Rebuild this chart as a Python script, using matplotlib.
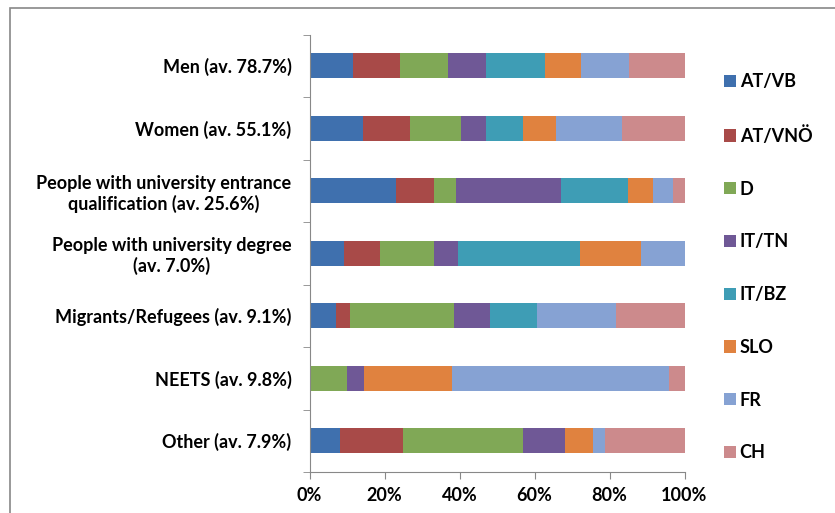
import numpy as np
import matplotlib.pyplot as plt
from matplotlib.patches import Rectangle

categories = ["Men (av. 78.7%)", "Women (av. 55.1%)",
              "People with university entrance\nqualification (av. 25.6%)",
              "People with university degree\n(av. 7.0%)",
              "Migrants/Refugees (av. 9.1%)", "NEETS (av. 9.8%)", "Other (av. 7.9%)"]
regions = ["AT/VB", "AT/VNÖ", "D", "IT/TN", "IT/BZ", "SLO", "FR", "CH"]

# share (%) of each region within a group
at_vb  = [11.6, 14.2, 23.1, 9.3, 7.1, 0.0, 8.2]
at_vno = [12.6, 12.7, 10.2, 9.6, 3.8, 0.0, 16.8]
d      = [12.8, 13.6, 5.8, 14.2, 27.5, 10.1, 31.9]
it_tn  = [10.1, 6.5, 27.9, 6.4, 9.8, 4.5, 11.3]
it_bz  = [15.8, 10.0, 17.8, 32.5, 12.5, 0.0, 0.0]
slo    = [9.6, 8.6, 6.7, 16.4, 0.0, 23.3, 7.3]
fr     = [12.7, 17.8, 5.3, 11.6, 20.9, 57.9, 3.4]
ch     = [14.8, 16.6, 3.2, 0.0, 18.4, 4.2, 21.1]
series = [at_vb, at_vno, d, it_tn, it_bz, slo, fr, ch]
colors = ["#3f70ae", "#a84a48", "#80a856", "#6f5896", "#3e9db5", "#e0823f", "#86a2d3", "#cc8a8c"]

plt.rcParams['font.family'] = ['Lato', 'DejaVu Sans']
fig = plt.figure(figsize=(8.35, 5.13), dpi=100)
ax = fig.add_axes([309.5 / 835, 1 - 472 / 513, 375 / 835, (472 - 34.5) / 513])

y = np.arange(len(categories))
left = np.zeros(len(categories))
for name, vals, c in zip(regions, series, colors):
    vals = np.array(vals)
    ax.barh(y, vals, left=left, height=0.4, color=c, label=name)
    left += vals

ax.set_xlim(0, 100)
ax.set_ylim(len(categories) - 0.5, -0.5)
ax.set_xticks(np.arange(0, 101, 20))
ax.set_xticklabels([f"{v}%" for v in range(0, 101, 20)], fontsize=13, fontweight='bold')
ax.set_yticks(y)
ax.set_yticklabels(categories, fontsize=13, fontweight='bold', ha='right')
for lab in ax.get_yticklabels():
    lab.set_multialignment('center')
ax.set_yticks(np.arange(-0.5, len(categories)), minor=True)
ax.tick_params(axis='y', which='major', length=0, pad=13)
ax.tick_params(axis='y', which='minor', length=5, color='#888888')
ax.tick_params(axis='x', length=5, color='#888888', pad=6)
for s in ['top', 'right']:
    ax.spines[s].set_visible(False)
for s in ['left', 'bottom']:
    ax.spines[s].set_color('#888888')

handles, labels = ax.get_legend_handles_labels()
fig.legend(handles, labels, loc='upper left', bbox_to_anchor=(708 / 835, 1 - 57 / 513),
           frameon=False, prop={'weight': 'bold', 'size': 13},
           labelspacing=1.98, handlelength=0.65, handleheight=0.65, handletextpad=0.2)

fig.patches.append(Rectangle((10 / 835, -0.1), 1.2, 1 - 8 / 513 + 0.1, transform=fig.transFigure,
                             fill=False, edgecolor='#888888', linewidth=1.2))

fig.savefig("out.png", dpi=100)
